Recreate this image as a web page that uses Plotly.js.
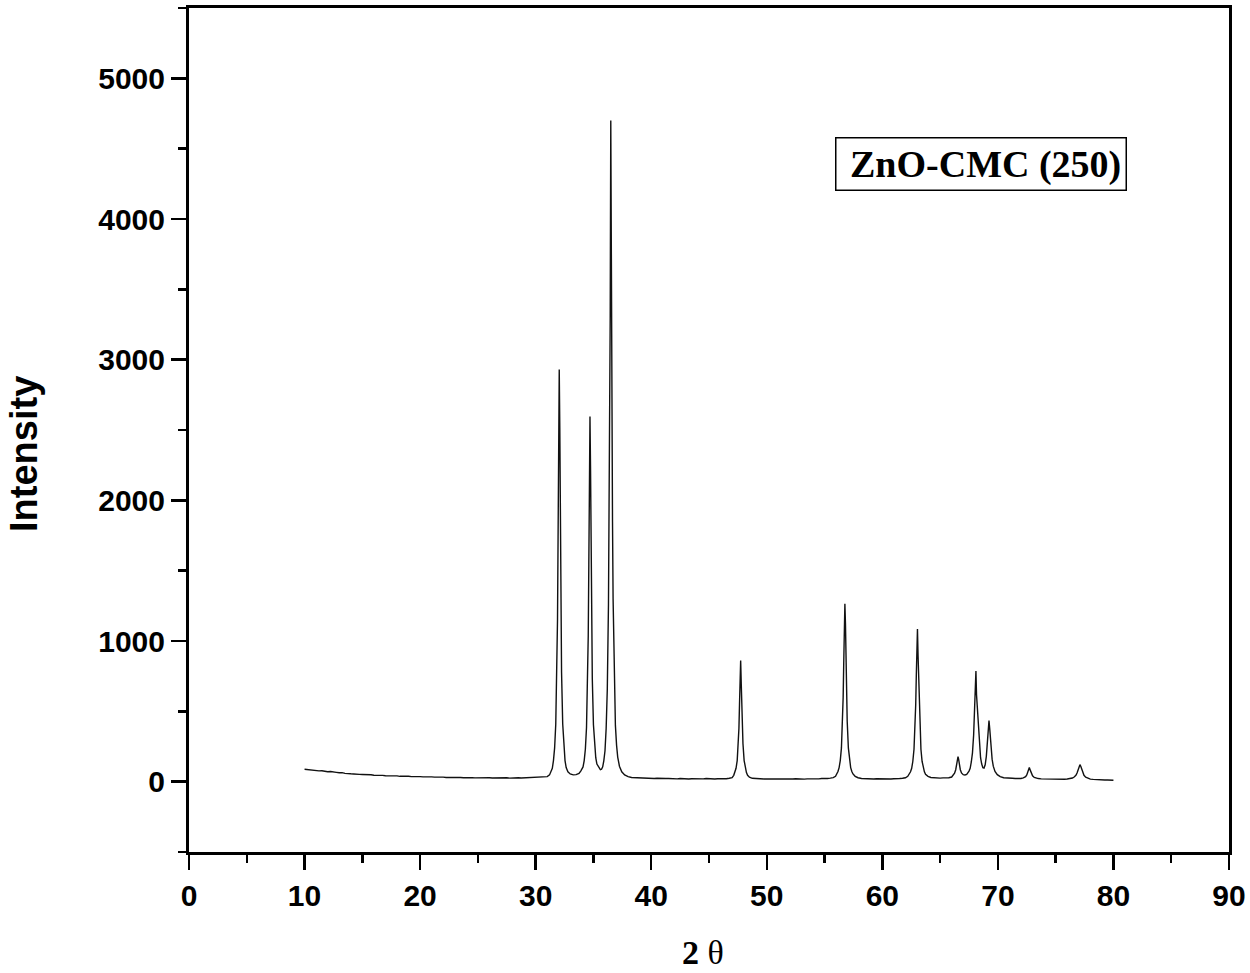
<!DOCTYPE html>
<html>
<head>
<meta charset="utf-8">
<script src="https://cdn.plot.ly/plotly-3.0.1.min.js"></script>
<style>html,body{margin:0;padding:0;background:#fff}#chart{width:1250px;height:973px}</style>
</head>
<body>
<div id="chart"></div>
<script>
// ---- Data: [2θ, intensity] ----
const scanLowAngle = [
  [10.00,88],[10.25,85],[10.50,86],[10.75,81],[11.00,80],[11.25,77],[11.50,78],[11.75,73],
  [12.00,71],[12.25,72],[12.50,67],[12.75,66],[13.00,63],[13.25,64],[13.50,59],[13.75,60],
  [14.00,56],[14.25,55],[14.50,56],[14.75,52],[15.00,51],[15.25,52],[15.50,48],[15.75,49],
  [16.00,46],[16.25,47],[16.50,44],[16.75,45],[17.00,42],[17.25,43],[17.50,41],[17.75,40],
  [18.00,41],[18.25,38],[18.50,39],[18.75,37],[19.00,38],[19.25,36],[19.50,37],[19.75,35],
  [20.00,36],[20.25,34],[20.50,35],[20.75,33],[21.00,34],[21.25,32],[21.50,33],[21.75,31],
  [22.00,32],[22.25,30],[22.50,31],[22.75,30],[23.00,31],[23.25,29],[23.50,30],[23.75,28],
  [24.00,30],[24.25,28],[24.50,29],[24.75,27],[25.00,28],[25.25,27],[25.50,29],[25.75,26],
  [26.00,28],[26.25,26],[26.50,27],[26.75,25],[27.00,27],[27.25,26],[27.50,28],[27.75,25],
  [28.00,27],[28.25,26],[28.50,28],[28.75,26],[29.00,27],[29.25,28],[29.50,27],[29.75,29],
  [30.00,28],[30.25,30],[30.50,31],[30.75,33],[31.00,36],[31.20,48]
];
const peaks31to39 = [
  [31.44,95],[31.54,150],[31.64,240],[31.74,410],[31.84,780],[31.89,1150],[31.94,1740],[31.99,2500],
  [32.04,2930],[32.09,2500],[32.14,1740],[32.19,1150],[32.24,780],[32.34,410],[32.44,240],[32.54,150],
  [32.64,100],[32.79,70],[32.99,55],[33.25,48],[33.50,50],[33.75,58],
  [33.90,75],[34.10,105],[34.20,150],[34.30,230],[34.40,385],[34.50,715],[34.55,1035],[34.60,1545],
  [34.65,2210],[34.70,2596],[34.75,2210],[34.80,1560],[34.85,1050],[34.90,735],[35.00,405],[35.10,250],
  [35.20,170],[35.30,125],[35.45,100],[35.60,85],[35.70,88],[35.80,105],
  [35.90,150],[36.00,220],[36.10,380],[36.20,660],[36.30,1260],[36.35,1850],[36.40,2780],[36.45,3300],
  [36.50,4700],[36.55,3300],[36.60,2700],[36.65,1850],[36.70,1300],[36.80,680],[36.90,400],[37.00,260],
  [37.10,175],[37.25,110],[37.45,70],[37.70,48],[38.00,36],[38.30,30]
];
const scanMidAngle = [
  [38.50,29],[38.75,27],[39.00,28],[39.25,25],[39.50,26],[39.75,24],[40.00,25],[40.25,23],
  [40.50,24],[40.75,22],[41.00,24],[41.25,22],[41.50,23],[41.75,21],[42.00,22],[42.25,20],
  [42.50,22],[42.75,20],[43.00,21],[43.25,19],[43.50,21],[43.75,20],[44.00,21],[44.25,19],
  [44.50,20],[44.75,22],[45.00,20],[45.25,21],[45.50,19],[45.75,21],[46.00,20],[46.25,22],
  [46.50,21],[46.75,24],[47.00,28],
  [47.14,45],[47.24,65],[47.34,95],[47.44,150],[47.54,270],[47.59,380],[47.64,550],[47.69,700],
  [47.74,861],[47.79,700],[47.84,550],[47.89,380],[47.94,270],[48.04,150],[48.14,95],[48.24,65],
  [48.34,45],[48.50,32],[48.75,24],[49.00,22],
  [49.25,20],[49.50,21],[49.75,19],[50.00,20],[50.25,18],[50.50,20],[50.75,19],[51.00,20],
  [51.25,18],[51.50,19],[51.75,20],[52.00,18],[52.25,19],[52.50,21],[52.75,19],[53.00,20],
  [53.25,18],[53.50,20],[53.75,19],[54.00,21],[54.25,19],[54.50,20],[54.75,22],[55.00,21],
  [55.25,23],[55.50,25],[55.75,29],[55.95,38],
  [56.06,55],[56.16,72],[56.26,100],[56.36,150],[56.46,240],[56.56,430],[56.61,600],[56.66,845],
  [56.71,1120],[56.76,1264],[56.81,1120],[56.86,845],[56.91,600],[56.96,430],[57.06,240],[57.16,150],
  [57.26,100],[57.36,72],[57.46,55],[57.65,38],[57.90,28],[58.20,23]
];
const scanHighAngle = [
  [58.50,21],[58.75,20],[59.00,22],[59.25,19],[59.50,21],[59.75,20],[60.00,19],[60.25,21],
  [60.50,20],[60.75,19],[61.00,21],[61.25,20],[61.50,22],[61.75,24],[62.00,28],[62.20,38],
  [62.34,52],[62.44,70],[62.54,95],[62.64,145],[62.74,230],[62.84,400],[62.89,550],[62.94,755],
  [62.99,975],[63.04,1085],[63.09,900],[63.14,740],[63.19,545],[63.24,400],[63.34,230],[63.44,145],
  [63.54,95],[63.64,70],[63.74,52],[63.95,38],[64.20,30],[64.50,27],
  [64.75,26],[65.00,25],[65.25,27],[65.50,26],[65.75,28],[66.00,33],[66.15,45],[66.25,60],
  [66.35,85],[66.45,130],[66.50,165],[66.55,178],[66.60,160],[66.65,125],[66.75,85],[66.85,62],
  [67.00,50],[67.15,48],[67.30,52],[67.50,75],[67.60,95],[67.70,140],[67.80,205],[67.90,330],
  [67.95,440],[68.00,580],[68.05,700],[68.10,787],[68.15,620],[68.20,560],[68.30,380],[68.40,250],
  [68.50,170],[68.60,125],[68.70,100],[68.80,97],[68.90,120],[69.00,180],[69.10,300],[69.18,400],
  [69.23,434],[69.30,370],[69.40,240],[69.50,160],[69.60,110],[69.75,72],[69.95,50],[70.20,36],
  [70.50,28],[70.75,25],[71.00,23],[71.25,24],[71.50,22],[71.75,21],[72.00,23],[72.20,27],
  [72.40,36],[72.50,48],[72.60,70],[72.68,92],[72.72,100],[72.80,82],[72.90,58],[73.00,42],
  [73.15,30],[73.35,24],[73.50,22],[73.75,20],[74.00,19],[74.25,18],[74.50,19],[74.75,17],
  [75.00,18],[75.25,17],[75.50,18],[75.75,17],[76.00,19],[76.25,21],[76.45,26],[76.60,33],
  [76.75,45],[76.85,62],[76.95,85],[77.03,108],[77.10,121],[77.18,108],[77.25,88],[77.35,65],
  [77.45,45],[77.60,32],[77.80,22],[78.00,18],[78.25,16],[78.50,14],[78.75,13],[79.00,14],
  [79.25,12],[79.50,12],[79.75,11],[80.00,10]
];
const sampleLabel = 'ZnO-CMC (250)';
const xTickVals = [0,10,20,30,40,50,60,70,80,90];
const yTickVals = [0,1000,2000,3000,4000,5000];
const xMinorStep = 5;
const yMinorStep = 500;
const xTitle = '<b>2</b> θ';
const yTitle = 'Intensity';

// ---- Build trace ----
const pattern = scanLowAngle.concat(peaks31to39, scanMidAngle, scanHighAngle);
const twoTheta = pattern.map(p => p[0]);
const intensity = pattern.map(p => p[1]);

const sansBold = {family: 'Arial, "Liberation Sans", sans-serif', size: 30, color: '#000', weight: 'bold'};
const serif = '"Times New Roman", "Liberation Serif", serif';

const layout = {
  width: 1250, height: 973,
  margin: {l: 189, r: 21, t: 8, b: 121},
  paper_bgcolor: '#fff', plot_bgcolor: '#fff',
  showlegend: false,
  xaxis: {
    range: [0, 90], tick0: xTickVals[0], dtick: xTickVals[1] - xTickVals[0],
    showgrid: false, zeroline: false,
    showline: true, linecolor: '#000', linewidth: 3, mirror: true,
    ticks: 'outside', ticklen: 15, tickwidth: 2.5, tickcolor: '#000',
    tickfont: sansBold,
    minor: {dtick: xMinorStep, ticks: 'outside', ticklen: 8, tickwidth: 2.5, tickcolor: '#000'}
  },
  yaxis: {
    range: [-500, 5500], tick0: yTickVals[0], dtick: yTickVals[1] - yTickVals[0],
    showgrid: false, zeroline: false,
    showline: true, linecolor: '#000', linewidth: 3, mirror: true,
    ticks: 'outside', ticklen: 15, tickwidth: 2.5, tickcolor: '#000',
    tickfont: sansBold,
    minor: {dtick: yMinorStep, ticks: 'outside', ticklen: 8, tickwidth: 2.5, tickcolor: '#000'}
  },
  annotations: [
    {
      xref: 'x', yref: 'y', x: 68.5, y: 4390, showarrow: false,
      text: '<b>\u00a0' + sampleLabel + '</b>',
      font: {family: serif, size: 38, color: '#000'},
      bordercolor: '#000', borderwidth: 1.5, borderpad: 4, bgcolor: '#fff'
    },
    {
      xref: 'paper', yref: 'paper', x: 0.494, y: 0, yshift: -100, xanchor: 'center', yanchor: 'middle',
      showarrow: false, text: xTitle, font: {family: serif, size: 34, color: '#000'}
    },
    {
      xref: 'paper', yref: 'paper', x: 0, xshift: -165, y: 0.4716, xanchor: 'center', yanchor: 'middle',
      showarrow: false, textangle: -90, text: '<b>' + yTitle + '</b>',
      font: {family: 'Arial, "Liberation Sans", sans-serif', size: 38, color: '#000'}
    }
  ]
};

const trace = {
  x: twoTheta, y: intensity, type: 'scatter', mode: 'lines',
  line: {color: '#111', width: 1.4}, hoverinfo: 'x+y'
};

Plotly.newPlot('chart', [trace], layout, {staticPlot: true, displayModeBar: false});
</script>
</body>
</html>
